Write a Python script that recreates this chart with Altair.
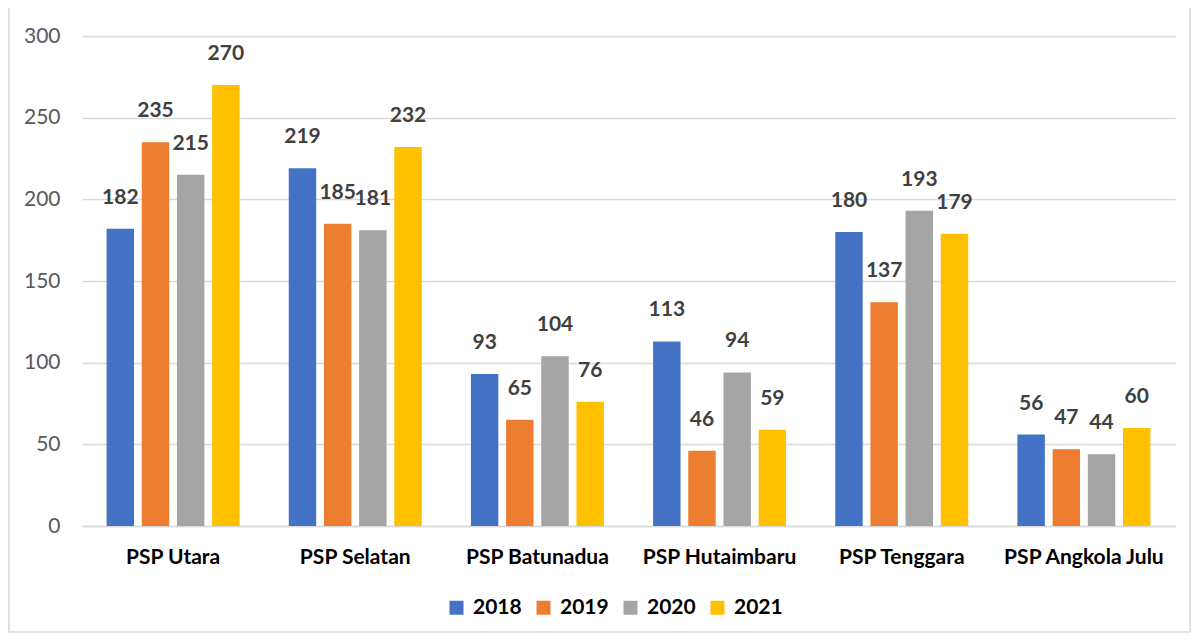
import altair as alt
import pandas as pd

categories = ["PSP Utara", "PSP Selatan", "PSP Batunadua", "PSP Hutaimbaru", "PSP Tenggara", "PSP Angkola Julu"]
years = ["2018", "2019", "2020", "2021"]
v2018 = [182, 219, 93, 113, 180, 56]
v2019 = [235, 185, 65, 46, 137, 47]
v2020 = [215, 181, 104, 94, 193, 44]
v2021 = [270, 232, 76, 59, 179, 60]
colors = ["#4472C4", "#ED7D31", "#A5A5A5", "#FFC000"]
y_ticks = [0, 50, 100, 150, 200, 250, 300]

rows = []
for yr, vals in zip(years, [v2018, v2019, v2020, v2021]):
    for c, v in zip(categories, vals):
        rows.append({"cat": c, "year": yr, "value": v})
df = pd.DataFrame(rows)

FONT = "Lato"

x = alt.X("cat:N", sort=categories, title=None,
          scale=alt.Scale(paddingInner=0.27, paddingOuter=0.135),
          axis=alt.Axis(labelAngle=0, labelFontSize=21, labelFontWeight="bold",
                        labelColor="#000000", labelFont=FONT, ticks=False,
                        domainColor="#D9D9D9", domainWidth=1.5, labelPadding=20))
xo = alt.XOffset("year:N", sort=years, scale=alt.Scale(paddingInner=0.22, paddingOuter=0))
y = alt.Y("value:Q", title=None,
          scale=alt.Scale(domain=[0, 300], nice=False),
          axis=alt.Axis(values=y_ticks, labelFontSize=21, labelColor="#595959",
                        labelFont=FONT, ticks=False, domain=False,
                        gridColor="#D9D9D9", gridWidth=1.5, labelPadding=22))
color = alt.Color("year:N", sort=years, title=None,
                  scale=alt.Scale(domain=years, range=colors),
                  legend=alt.Legend(orient="none", legendX=364, legendY=561,
                                    direction="horizontal", symbolType="square",
                                    symbolSize=196, symbolStrokeWidth=0,
                                    labelFontSize=21, labelFontWeight="bold",
                                    labelColor="#000000", labelFont=FONT,
                                    columnPadding=11, labelOffset=6))

base = alt.Chart(df)
bars = base.mark_bar().encode(x=x, xOffset=xo, y=y, color=color)
labels = base.mark_text(dy=-25, baseline="alphabetic", fontSize=21, fontWeight="bold",
                        color="#404040", font=FONT).encode(
    x=alt.X("cat:N", sort=categories), xOffset=xo, y="value:Q", text="value:Q")

frame = alt.Chart(pd.DataFrame({"a": [0]})).mark_rect(
    fill=None, stroke="#D9D9D9", strokeWidth=1.5).encode(
    x=alt.value(-73), x2=alt.value(1108), y=alt.value(-29), y2=alt.value(596))

chart = alt.layer(frame, bars, labels).properties(
    width=1093, height=490,
    autosize=alt.AutoSizeParams(type="none"),
    padding={"left": 74, "top": 28, "right": 17, "bottom": 108},
).configure_view(stroke=None)

chart.save("out.html", embed_options={"renderer": "svg", "actions": False})
